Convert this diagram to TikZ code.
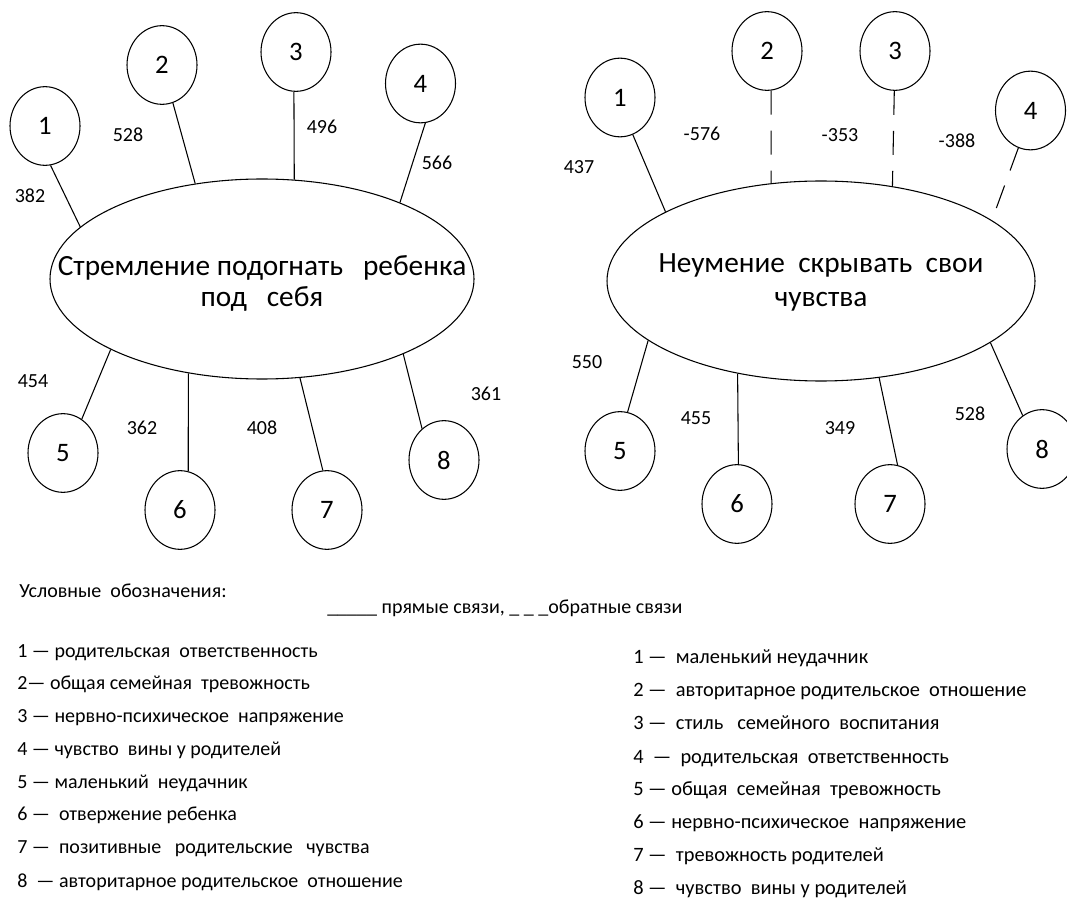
\documentclass[tikz,border=0pt]{standalone}
\usepackage{fontspec}
\setmainfont{Carlito}
\usetikzlibrary{shapes.geometric}
\begin{document}
\begin{tikzpicture}[x=0.75pt,y=-0.75pt,
  bubble/.style={draw, ellipse, line width=0.8pt, inner sep=0pt, minimum width=52.5pt, minimum height=59pt, font=\fontsize{20}{24}\selectfont},
  big/.style={draw, ellipse, line width=0.8pt, inner sep=0pt, minimum height=150pt},
  etext/.style={font=\fontsize{22}{26}\selectfont, inner sep=0pt, anchor=base},
  lab/.style={font=\fontsize{15}{18}\selectfont, inner sep=0pt},
  leg/.style={font=\fontsize{15}{18}\selectfont, inner sep=0pt, anchor=base west},
  legr/.style={font=\fontsize{15.3}{18}\selectfont, inner sep=0pt, anchor=base west},
  link/.style={line width=0.8pt},
  neg/.style={link, dash pattern=on 18pt off 12pt}]
\useasboundingbox (0,0) rectangle (1067,898);

% ---------- left diagram ----------
\node[big, minimum width=318pt] (E1) at (262,279) {};
\node[etext] (t1a) at (262,276) {Стремление подогнать\ \ \ ребенка};
\node[etext] (t1b) at (262,307) {под\ \ \ себя};

\node[bubble] (a1) at (45,126) {1};
\node[bubble] (a2) at (162,65) {2};
\node[bubble] (a3) at (296,52) {3};
\node[bubble] (a4) at (420.5,83.5) {4};
\node[bubble] (a5) at (63,453) {5};
\node[bubble] (a6) at (180,510) {6};
\node[bubble] (a7) at (327,510) {7};
\node[bubble] (a8) at (444,460) {8};

\draw[link] (a1.-82) -- (E1.164);
\draw[link] (a2.-74) -- (E1.125);
\draw[link] (a3.-93) -- (E1.72);
\draw[link] (a4.-83) -- (E1.29);
\draw[link] (E1.-155.6) -- (a5.61.5);
\draw[link] (E1.-128.5) -- (a6.78);
\draw[link] (E1.-69) -- (a7.96);
\draw[link] (E1.-28.8) -- (a8.125);

\node[lab] (la1) at (30,196) {382};
\node[lab] (la2) at (128,135) {528};
\node[lab] (la3) at (322,127) {496};
\node[lab] (la4) at (437,163) {566};
\node[lab] (la5) at (33,381) {454};
\node[lab] (la6) at (142,428) {362};
\node[lab] (la7) at (262,428) {408};
\node[lab] (la8) at (486,394) {361};

% ---------- right diagram ----------
\node[big, minimum width=321pt] (E2) at (821,281) {};
\node[etext] (t2a) at (821,273) {Неумение\ \ скрывать\ \ свои};
\node[etext] (t2b) at (821,307) {чувства};

\node[bubble] (b1) at (620,97.5) {1};
\node[bubble] (b2) at (767,51) {2};
\node[bubble] (b3) at (895,51) {3};
\node[bubble] (b4) at (1030.5,110.5) {4};
\node[bubble] (b5) at (620,451) {5};
\node[bubble] (b6) at (737,504) {6};
\node[bubble] (b7) at (890,504) {7};
\node[bubble] (b8) at (1042,449) {8};
\coordinate (b4end) at (996,209);

\draw[link] (b1.-71.8) -- (E2.156.2);
\draw[neg] (b2.-84.3) -- (E2.117);
\draw[neg] (b3.-91.4) -- (E2.53.9);
\draw[neg] (b4.-108.6) -- (b4end);
\draw[link] (E2.-161.3) -- (b5.79.4);
\draw[link] (E2.-132) -- (b6.88.6);
\draw[link] (E2.-59.1) -- (b7.79);
\draw[link] (E2.-20) -- (b8.120.5);

\node[lab] (lb1) at (579,167) {437};
\node[lab] (lb2) at (702,134) {-576};
\node[lab] (lb3) at (840,135) {-353};
\node[lab] (lb4) at (957,141) {-388};
\node[lab] (lb5) at (587,362) {550};
\node[lab] (lb6) at (696,418) {455};
\node[lab] (lb7) at (840,428) {349};
\node[lab] (lb8) at (970,414) {528};

% ---------- legend ----------
\node[leg] (lg0) at (19,597) {Условные\ \ обозначения:};
\node[leg] (lg00) at (327,613) {\_\_\_\_\_ прямые связи, \_\ \_ \_обратные связи};

\node[leg] (l1) at (17,657) {1 — родительская\ \ ответственность};
\node[leg] (l2) at (17,689) {2— общая семейная\ \ тревожность};
\node[leg] (l3) at (17,722) {3 — нервно-психическое\ \ напряжение};
\node[leg] (l4) at (17,755) {4 — чувство\ \ вины у родителей};
\node[leg] (l5) at (17,788) {5 — маленький\ \ неудачник};
\node[leg] (l6) at (17,820) {6 —\ \ отвержение ребенка};
\node[leg] (l7) at (17,853) {7 —\ \ позитивные\ \ \ родительские\ \ \ чувства};
\node[leg] (l8) at (17,887) {8\ \ — авторитарное родительское\ \ отношение};

\node[legr] (r1) at (633,663) {1 —\ \ маленький неудачник};
\node[legr] (r2) at (633,696) {2 —\ \ авторитарное родительское\ \ отношение};
\node[legr] (r3) at (633,729) {3 —\ \ стиль\ \ \ семейного\ \ воспитания};
\node[legr] (r4) at (633,763) {4\ \ —\ \ родительская\ \ ответственность};
\node[legr] (r5) at (633,795) {5 — общая\ \ семейная\ \ тревожность};
\node[legr] (r6) at (633,828) {6 — нервно-психическое\ \ напряжение};
\node[legr] (r7) at (633,861) {7 —\ \ тревожность родителей};
\node[legr] (r8) at (633,894) {8 —\ \ чувство\ \ вины у родителей};
\end{tikzpicture}
\end{document}
